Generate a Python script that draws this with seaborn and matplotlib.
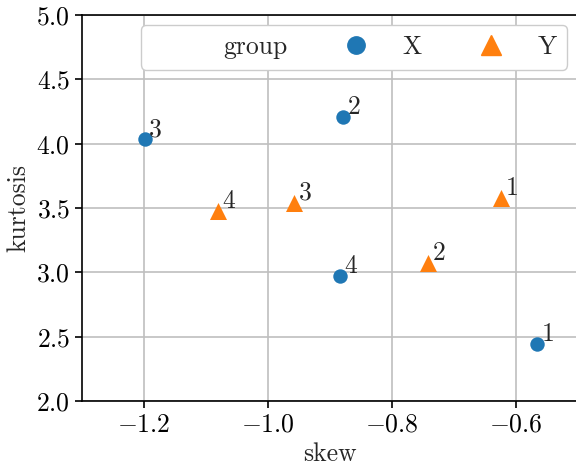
import numpy as np
import pandas as pd
import matplotlib
matplotlib.use('Agg')
import matplotlib.pyplot as plt
import seaborn as sns
from matplotlib.lines import Line2D

# values
group = ['X', 'X', 'X', 'X', 'Y', 'Y', 'Y', 'Y']
label = ['1', '2', '3', '4', '1', '2', '3', '4']
skew = [-0.565, -0.878, -1.198, -0.884, -0.623, -0.741, -0.957, -1.080]
kurtosis = [2.44, 4.205, 4.035, 2.97, 3.575, 3.07, 3.54, 3.475]

df = pd.DataFrame({'group': group, 'label': label, 'skew': skew, 'kurtosis': kurtosis})

FS = 18.5
colors = {'X': '#1f77b4', 'Y': '#ff7f0e'}
markers = {'X': 'o', 'Y': '^'}
sizes = {'X': 108, 'Y': 150}

sns.set_style('ticks')
plt.rcParams['font.family'] = ['cmr10', 'DejaVu Serif']
plt.rcParams['mathtext.fontset'] = 'cm'
plt.rcParams['axes.formatter.use_mathtext'] = True
plt.rcParams['font.size'] = FS
plt.rcParams['axes.unicode_minus'] = True

fig = plt.figure(figsize=(5.76, 4.66), dpi=100)
ax = fig.add_axes([82/576, 65/466, 495.5/576, 386/466])

for g in ['X', 'Y']:
    sns.scatterplot(data=df[df['group'] == g], x='skew', y='kurtosis',
                    marker=markers[g], color=colors[g], s=sizes[g],
                    linewidth=0, ax=ax, legend=False, zorder=3)

for i, r in df.iterrows():
    ax.annotate(r['label'], (r['skew'], r['kurtosis']), xytext=(3, -1.5),
                textcoords='offset points', ha='left', va='bottom', fontsize=FS)

ax.set_xlim(-1.3, -0.5)
ax.set_ylim(2.0, 5.0)
ax.set_xticks([-1.2, -1.0, -0.8, -0.6])
ax.set_yticks(np.arange(2.0, 5.01, 0.5))
ax.grid(True, color='#bfbfbf', linewidth=1.2)
ax.set_axisbelow(True)
for s in ax.spines.values():
    s.set_color('black')
    s.set_linewidth(1.2)
ax.tick_params(colors='black', labelsize=FS, width=1.2, length=5)
ax.set_xlabel('skew', fontsize=FS)
ax.set_ylabel('kurtosis', fontsize=FS)

handles = [Line2D([], [], linestyle='none', marker=None),
           Line2D([], [], linestyle='none', marker='o', color=colors['X'], markersize=12.5),
           Line2D([], [], linestyle='none', marker='^', color=colors['Y'], markersize=15)]
ax.legend(handles, ['group', 'X', 'Y'], ncol=3, loc='upper right', fontsize=FS,
          frameon=True, edgecolor='#cccccc', framealpha=1.0, columnspacing=1.7,
          borderaxespad=0.4)

fig.savefig('out.png', dpi=100)
